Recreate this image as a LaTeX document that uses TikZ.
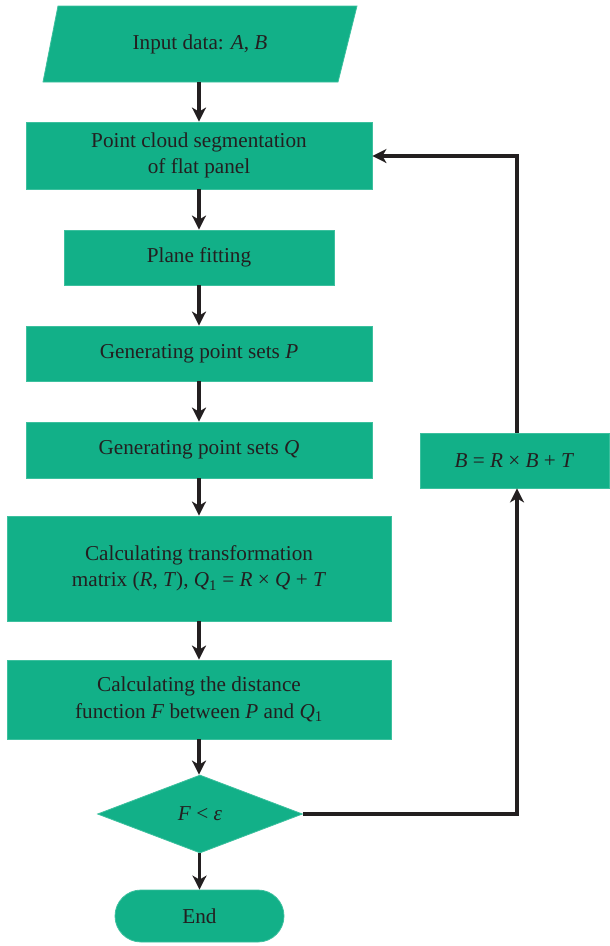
\documentclass[tikz,border=0pt]{standalone}
\usepackage{fontspec}
\setmainfont{Liberation Serif}
\usetikzlibrary{arrows.meta,shapes.geometric}
\definecolor{boxgreen}{HTML}{12B088}
\definecolor{edgegreen}{HTML}{3CC09E}
\definecolor{ink}{HTML}{231F20}
\tikzset{
  base/.style={fill=boxgreen, draw=edgegreen, line width=0.8pt, text=ink, align=center,
    font=\fontsize{21.2}{26.5}\selectfont, inner sep=0pt},
  procbox/.style={base, rectangle},
  arr/.style={draw=ink, line width=3.2pt, -{Stealth[length=14pt,width=14pt,inset=4pt]}},
  plainline/.style={draw=ink, line width=3.2pt}
}
\begin{document}
\begin{tikzpicture}[x=1pt,y=-1pt]
\useasboundingbox (0,0) rectangle (610,946);
% input parallelogram
\fill[boxgreen, draw=edgegreen, line width=0.8pt] (58,6) -- (357,6) -- (338,82) -- (43,82) -- cycle;
\node[text=ink, font=\fontsize{21.2}{26.5}\selectfont, minimum height=76pt, inner sep=0pt] (in) at (200,44) {Input data: \textit{A}, \textit{B}};
\node[procbox, minimum width=346pt, minimum height=67pt] (b1) at (199,155.5) {Point cloud segmentation\\of flat panel};
\node[procbox, minimum width=270pt, minimum height=55pt] (b2) at (199,257.5) {Plane fitting};
\node[procbox, minimum width=346pt, minimum height=55pt] (b3) at (199,353.5) {Generating point sets \textit{P}};
\node[procbox, minimum width=346pt, minimum height=56pt] (b4) at (199,450) {Generating point sets \textit{Q}};
\node[procbox, minimum width=384pt, minimum height=105pt] (b5) at (199,568.5) {Calculating transformation\\matrix (\textit{R}, \textit{T}), \textit{Q}\textsubscript{1} = \textit{R} × \textit{Q} + \textit{T}};
\node[procbox, minimum width=384pt, minimum height=79pt] (b6) at (199,699.5) {Calculating the distance\\function \textit{F} between \textit{P} and \textit{Q}\textsubscript{1}};
\node[base, diamond, minimum width=205pt, minimum height=78pt] (d) at (200,814) {\textit{F} < \textit{ε}};
\node[base, rectangle, rounded corners=26pt, minimum width=169pt, minimum height=52pt] (end) at (199.5,916) {End};
\node[procbox, minimum width=189pt, minimum height=55pt] (br) at (514.5,460.5) {\textit{B} = \textit{R} × \textit{B} + \textit{T}};
\coordinate (c1) at (517,814);
\coordinate (c2) at (517,156);
% arrows
\draw[arr] (in.south -| b1.north) -- (b1.north);
\draw[arr] (b1.south -| b2.north) -- (b2.north);
\draw[arr] (b2.south) -- (b3.north);
\draw[arr] (b3.south) -- (b4.north);
\draw[arr] (b4.south) -- (b5.north);
\draw[arr] (b5.south) -- (b6.north);
\draw[arr] (b6.south) -- (b6.south |- d.north);
\draw[arr] (d.south -| end.north) -- (end.north);
\draw[arr] (d.east) -- (c1) -- (c1 |- br.south);
\draw[arr] (br.north -| c2) -- (c2) -- (c2 -| b1.east);
\end{tikzpicture}
\end{document}
